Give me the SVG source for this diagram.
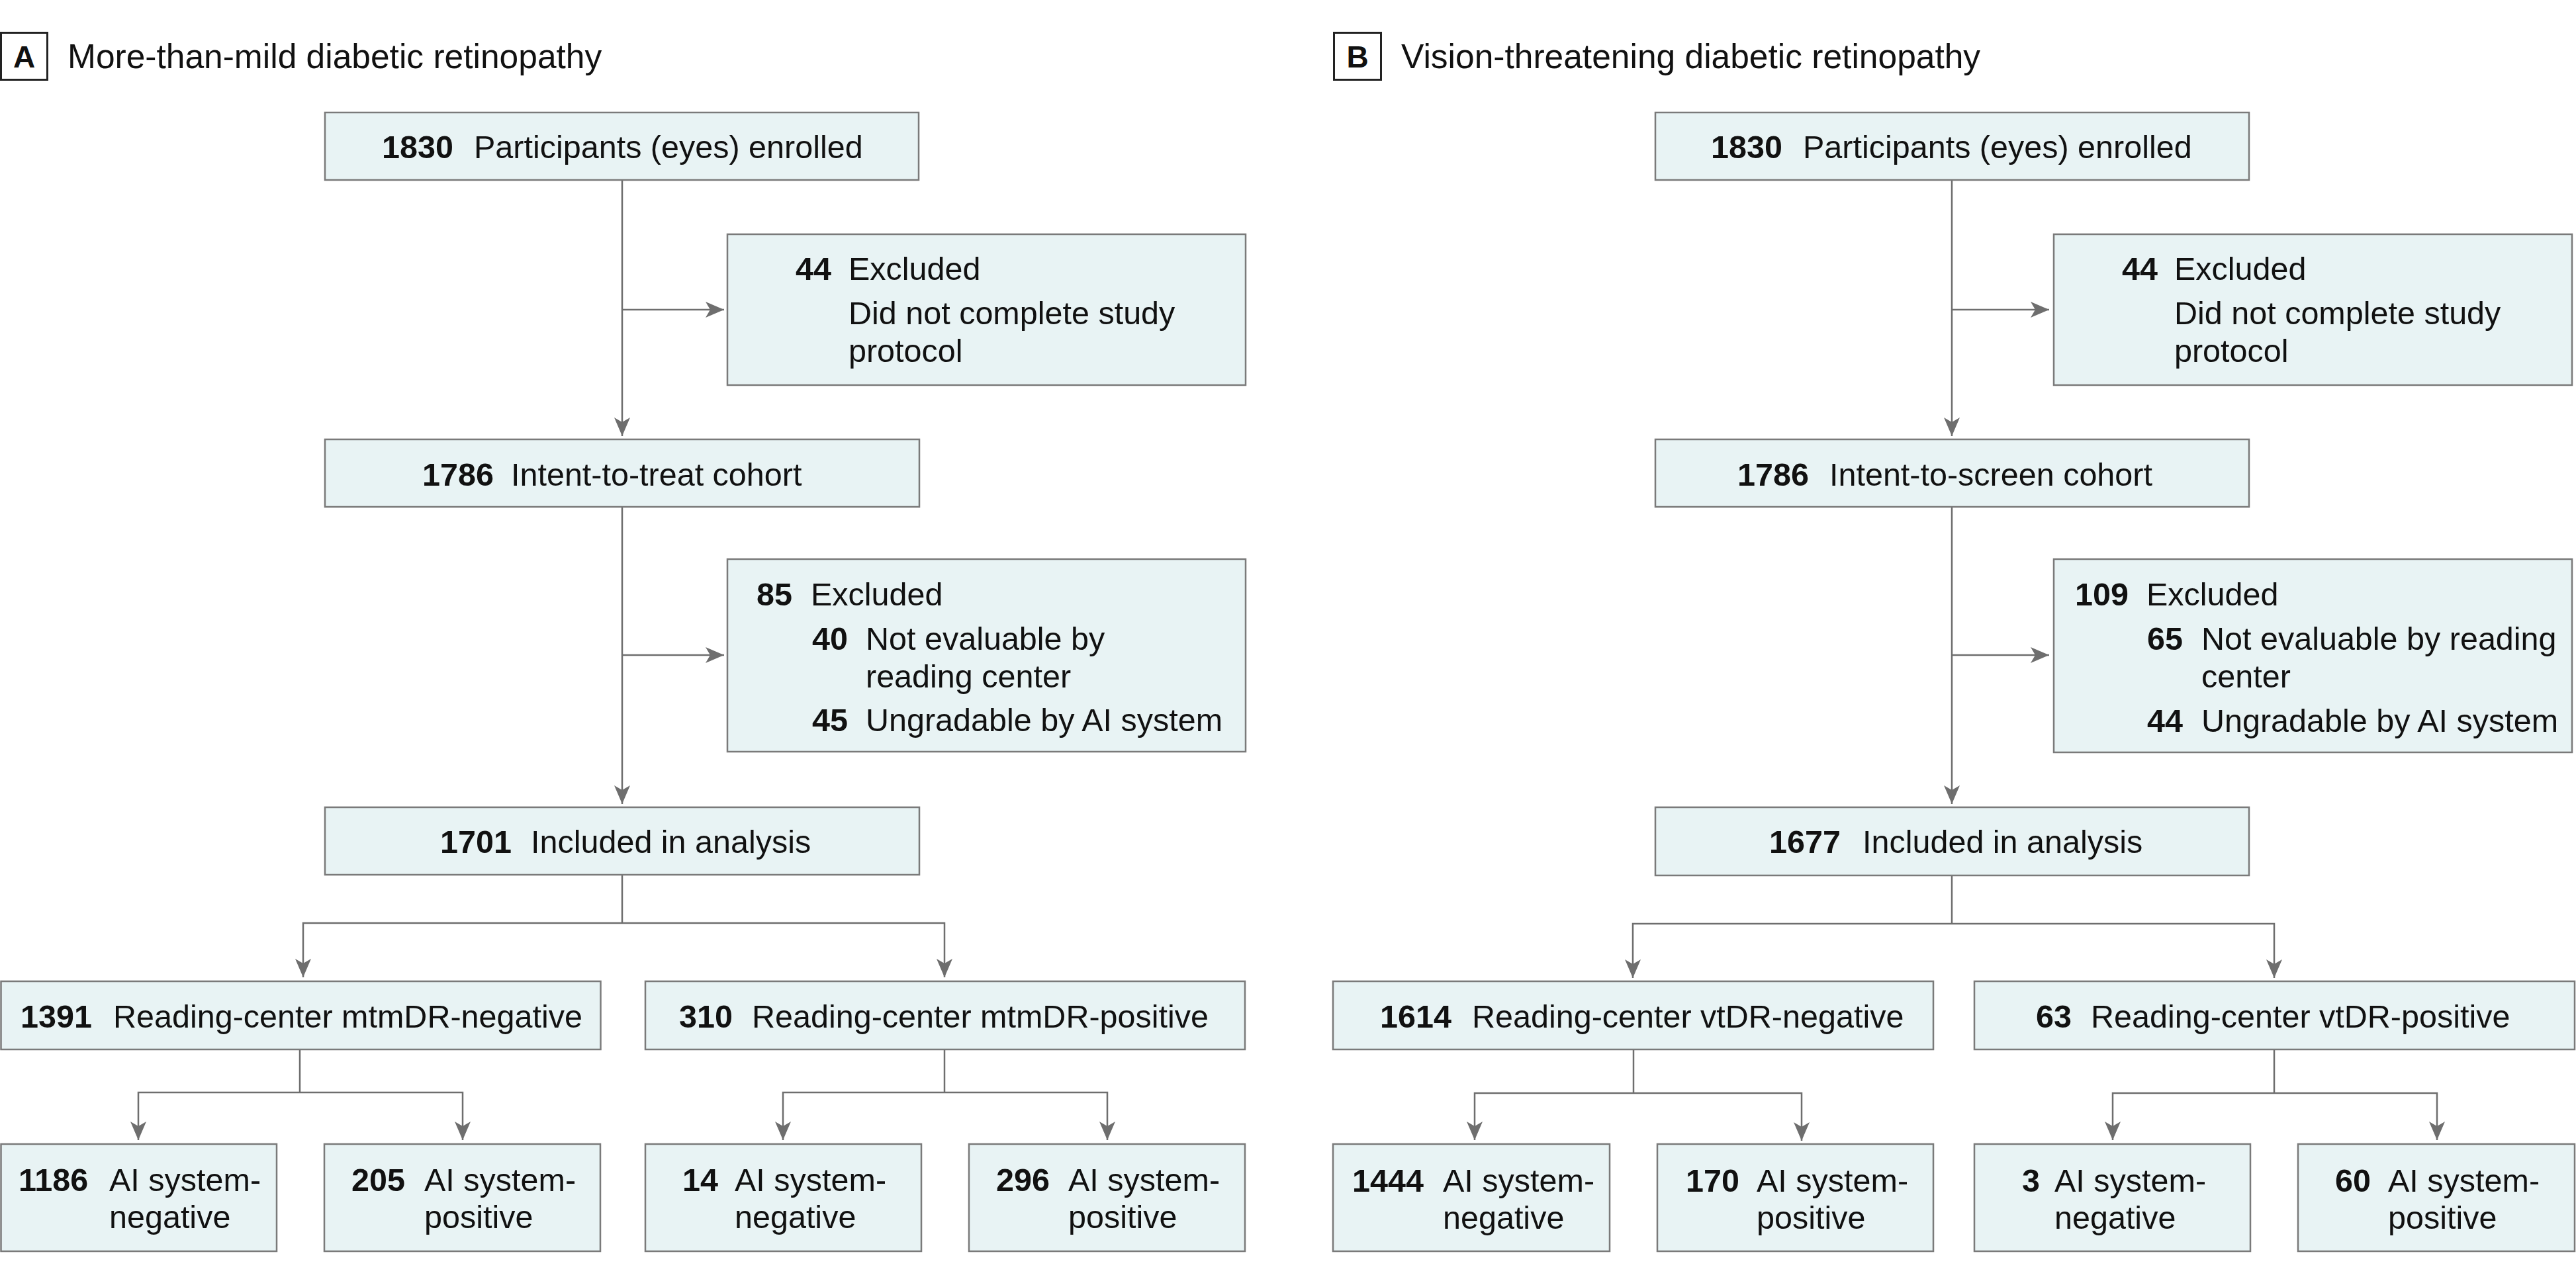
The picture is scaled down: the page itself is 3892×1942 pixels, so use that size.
<svg xmlns="http://www.w3.org/2000/svg" width="3892" height="1942" viewBox="0 0 3892 1942">
<defs>
<style>
text{font-family:"Liberation Sans",Arial,sans-serif;fill:#111;}
.t{font-size:51.5px;}
.b{font-size:48.5px;}
.n{font-weight:bold;}
.lab{font-size:46px;font-weight:bold;text-anchor:middle;}
.lb{fill:#fff;stroke:#222;stroke-width:3;}
.box{fill:#e8f3f4;stroke:#7a7a7a;stroke-width:2.5;}
.c{fill:none;stroke:#6e6e6e;stroke-width:2.5;}
.c.a{marker-end:url(#ah);}
</style>
<marker id="ah" markerUnits="userSpaceOnUse" markerWidth="32" markerHeight="28" refX="28" refY="12" orient="auto" viewBox="0 0 32 28">
<path d="M0,0 L28,12 L0,24 L7,12 Z" fill="#6e6e6e"/>
</marker>
</defs>
<rect width="3892" height="1942" fill="#fff"/>

<g id="titleA">
<rect class="lb" x="1.5" y="49.5" width="70" height="71"/>
<text class="lab" x="36.5" y="102">A</text>
<text class="t" x="102" y="103">More-than-mild diabetic retinopathy</text>
</g>
<g id="titleB">
<rect class="lb" x="2015.5" y="49.5" width="71" height="71"/>
<text class="lab" x="2051" y="102">B</text>
<text class="t" x="2117" y="103">Vision-threatening diabetic retinopathy</text>
</g>

<g id="connectors">
<path class="c a" d="M940,272 V659"/>
<path class="c a" d="M940,468 H1094"/>
<path class="c a" d="M940,766 V1215"/>
<path class="c a" d="M940,990 H1094"/>
<path class="c" d="M940,1322 V1395"/>
<path class="c a" d="M940,1395 H458 V1477"/>
<path class="c a" d="M940,1395 H1427 V1477"/>
<path class="c" d="M453,1586 V1651"/>
<path class="c a" d="M453,1651 H209 V1723"/>
<path class="c a" d="M453,1651 H699 V1723"/>
<path class="c" d="M1427,1586 V1651"/>
<path class="c a" d="M1427,1651 H1183 V1723"/>
<path class="c a" d="M1427,1651 H1673 V1723"/>

<path class="c a" d="M2949,272 V659"/>
<path class="c a" d="M2949,468 H3096"/>
<path class="c a" d="M2949,766 V1215"/>
<path class="c a" d="M2949,990 H3096"/>
<path class="c" d="M2949,1323 V1396"/>
<path class="c a" d="M2949,1396 H2467 V1478"/>
<path class="c a" d="M2949,1396 H3436 V1478"/>
<path class="c" d="M2468,1586 V1652"/>
<path class="c a" d="M2468,1652 H2228 V1723"/>
<path class="c a" d="M2468,1652 H2722 V1724"/>
<path class="c" d="M3436,1586 V1652"/>
<path class="c a" d="M3436,1652 H3192 V1723"/>
<path class="c a" d="M3436,1652 H3682 V1723"/>
</g>

<!-- Panel A -->
<g id="a-enrolled">
<rect class="box" x="491" y="170" width="897" height="102"/>
<text class="b" y="239"><tspan class="n" x="577">1830</tspan><tspan x="716">Participants (eyes) enrolled</tspan></text>
</g>
<g id="a-excl1">
<rect class="box" x="1099" y="354" width="783" height="228"/>
<text class="b" y="423"><tspan class="n" x="1202">44</tspan><tspan x="1282">Excluded</tspan></text>
<text class="b" x="1282" y="490">Did not complete study</text>
<text class="b" x="1282" y="547">protocol</text>
</g>
<g id="a-itt">
<rect class="box" x="491" y="664" width="898" height="102"/>
<text class="b" y="734"><tspan class="n" x="638">1786</tspan><tspan x="772">Intent-to-treat cohort</tspan></text>
</g>
<g id="a-excl2">
<rect class="box" x="1099" y="845" width="783" height="291"/>
<text class="b" y="915"><tspan class="n" x="1143">85</tspan><tspan x="1225">Excluded</tspan></text>
<text class="b" y="982"><tspan class="n" x="1227">40</tspan><tspan x="1308">Not evaluable by</tspan></text>
<text class="b" x="1308" y="1039">reading center</text>
<text class="b" y="1105"><tspan class="n" x="1227">45</tspan><tspan x="1308">Ungradable by AI system</tspan></text>
</g>
<g id="a-included">
<rect class="box" x="491" y="1220" width="898" height="102"/>
<text class="b" y="1289"><tspan class="n" x="665">1701</tspan><tspan x="802">Included in analysis</tspan></text>
</g>
<g id="a-rcneg">
<rect class="box" x="1.5" y="1483" width="906" height="103"/>
<text class="b" y="1553"><tspan class="n" x="31">1391</tspan><tspan x="171">Reading-center mtmDR-negative</tspan></text>
</g>
<g id="a-rcpos">
<rect class="box" x="975" y="1483" width="906" height="103"/>
<text class="b" y="1553"><tspan class="n" x="1026">310</tspan><tspan x="1136">Reading-center mtmDR-positive</tspan></text>
</g>
<g id="a-1186">
<rect class="box" x="1.5" y="1729" width="416.5" height="162"/>
<text class="b" y="1800"><tspan class="n" x="28">1186</tspan><tspan x="165">AI system-</tspan></text>
<text class="b" x="165" y="1856">negative</text>
</g>
<g id="a-205">
<rect class="box" x="490" y="1729" width="417" height="162"/>
<text class="b" y="1800"><tspan class="n" x="531">205</tspan><tspan x="641">AI system-</tspan></text>
<text class="b" x="641" y="1856">positive</text>
</g>
<g id="a-14">
<rect class="box" x="975" y="1729" width="417" height="162"/>
<text class="b" y="1800"><tspan class="n" x="1031">14</tspan><tspan x="1110">AI system-</tspan></text>
<text class="b" x="1110" y="1856">negative</text>
</g>
<g id="a-296">
<rect class="box" x="1464" y="1729" width="417" height="162"/>
<text class="b" y="1800"><tspan class="n" x="1505">296</tspan><tspan x="1614">AI system-</tspan></text>
<text class="b" x="1614" y="1856">positive</text>
</g>

<!-- Panel B -->
<g id="b-enrolled">
<rect class="box" x="2501" y="170" width="897" height="102"/>
<text class="b" y="239"><tspan class="n" x="2585">1830</tspan><tspan x="2724">Participants (eyes) enrolled</tspan></text>
</g>
<g id="b-excl1">
<rect class="box" x="3103" y="354" width="783" height="228"/>
<text class="b" y="423"><tspan class="n" x="3206">44</tspan><tspan x="3285">Excluded</tspan></text>
<text class="b" x="3285" y="490">Did not complete study</text>
<text class="b" x="3285" y="547">protocol</text>
</g>
<g id="b-its">
<rect class="box" x="2501" y="664" width="897" height="102"/>
<text class="b" y="734"><tspan class="n" x="2625">1786</tspan><tspan x="2764">Intent-to-screen cohort</tspan></text>
</g>
<g id="b-excl2">
<rect class="box" x="3103" y="845" width="783" height="292"/>
<text class="b" y="915"><tspan class="n" x="3135">109</tspan><tspan x="3243">Excluded</tspan></text>
<text class="b" y="982"><tspan class="n" x="3244">65</tspan><tspan x="3326">Not evaluable by reading</tspan></text>
<text class="b" x="3326" y="1039">center</text>
<text class="b" y="1106"><tspan class="n" x="3244">44</tspan><tspan x="3326">Ungradable by AI system</tspan></text>
</g>
<g id="b-included">
<rect class="box" x="2501" y="1220" width="897" height="103"/>
<text class="b" y="1289"><tspan class="n" x="2673">1677</tspan><tspan x="2814">Included in analysis</tspan></text>
</g>
<g id="b-rcneg">
<rect class="box" x="2014" y="1483" width="907" height="103"/>
<text class="b" y="1553"><tspan class="n" x="2085">1614</tspan><tspan x="2224">Reading-center vtDR-negative</tspan></text>
</g>
<g id="b-rcpos">
<rect class="box" x="2983" y="1483" width="907" height="103"/>
<text class="b" y="1553"><tspan class="n" x="3076">63</tspan><tspan x="3159">Reading-center vtDR-positive</tspan></text>
</g>
<g id="b-1444">
<rect class="box" x="2014" y="1729" width="418" height="162"/>
<text class="b" y="1801"><tspan class="n" x="2043">1444</tspan><tspan x="2180">AI system-</tspan></text>
<text class="b" x="2180" y="1857">negative</text>
</g>
<g id="b-170">
<rect class="box" x="2504" y="1729" width="417" height="162"/>
<text class="b" y="1801"><tspan class="n" x="2547">170</tspan><tspan x="2654">AI system-</tspan></text>
<text class="b" x="2654" y="1857">positive</text>
</g>
<g id="b-3">
<rect class="box" x="2983" y="1729" width="417" height="162"/>
<text class="b" y="1801"><tspan class="n" x="3055">3</tspan><tspan x="3104">AI system-</tspan></text>
<text class="b" x="3104" y="1857">negative</text>
</g>
<g id="b-60">
<rect class="box" x="3472" y="1729" width="418" height="162"/>
<text class="b" y="1801"><tspan class="n" x="3528">60</tspan><tspan x="3608">AI system-</tspan></text>
<text class="b" x="3608" y="1857">positive</text>
</g>
</svg>
